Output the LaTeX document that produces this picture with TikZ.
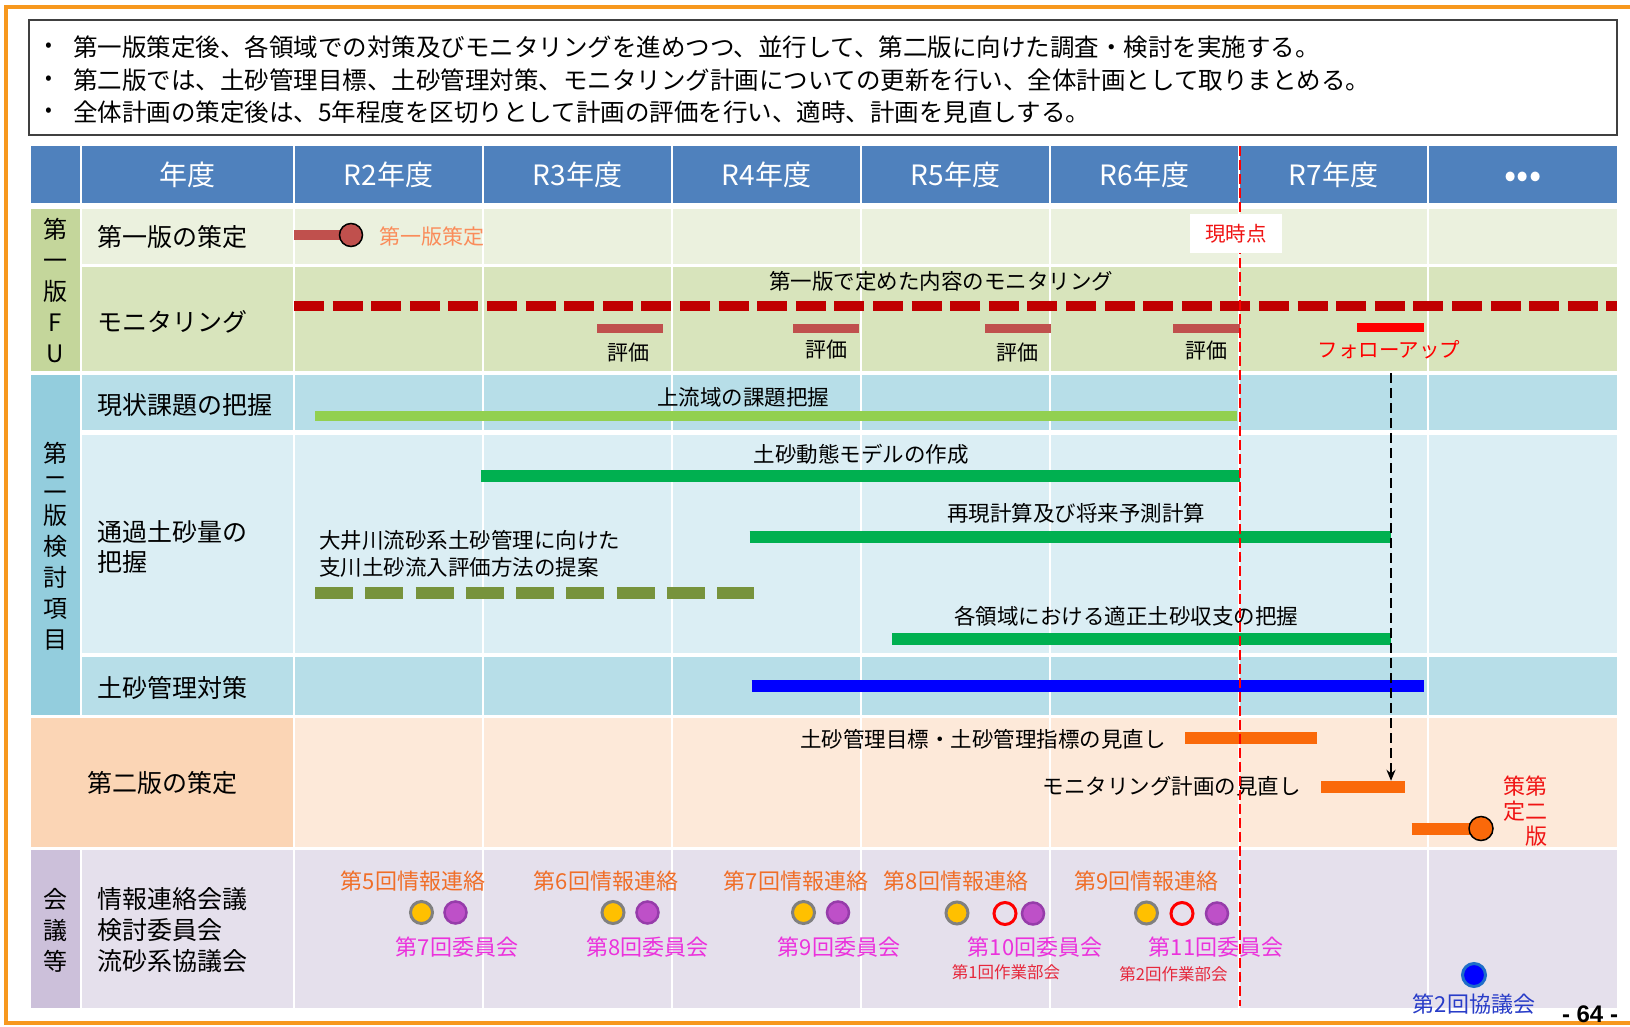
\documentclass[tikz,border=0pt]{standalone}
\usepackage{fontspec}
\setmainfont{Noto Sans CJK JP}
\newfontfamily\latinb{Liberation Sans}
\usetikzlibrary{arrows.meta}
\definecolor{frameor}{RGB}{247,152,30}
\definecolor{headblue}{RGB}{79,129,189}
\definecolor{gAdark}{RGB}{196,214,155}
\definecolor{gAlight}{RGB}{235,241,222}
\definecolor{gAmid}{RGB}{216,228,188}
\definecolor{gBdark}{RGB}{147,205,221}
\definecolor{gBmid}{RGB}{183,222,232}
\definecolor{gBlight}{RGB}{219,238,244}
\definecolor{peach}{RGB}{251,213,181}
\definecolor{peachlt}{RGB}{253,233,217}
\definecolor{lavdark}{RGB}{204,192,218}
\definecolor{lavlt}{RGB}{229,224,236}
\definecolor{brick}{RGB}{192,80,77}
\definecolor{monred}{RGB}{192,0,0}
\definecolor{ltgreen}{RGB}{146,208,80}
\definecolor{bargreen}{RGB}{0,176,80}
\definecolor{olivebar}{RGB}{119,147,60}
\definecolor{orng}{RGB}{250,105,10}
\definecolor{salmon}{RGB}{250,140,90}
\definecolor{mtgor}{RGB}{240,110,40}
\definecolor{mag}{RGB}{235,50,220}
\definecolor{ylw}{RGB}{255,192,0}
\definecolor{purp}{RGB}{190,80,200}
\definecolor{purpb}{RGB}{150,60,170}
\definecolor{wgred}{RGB}{230,40,60}
\definecolor{kyblue}{RGB}{40,60,200}
\definecolor{ringblue}{RGB}{30,110,200}
\definecolor{nowred}{RGB}{240,20,20}
\newcommand\fsz[1]{\fontsize{#1}{#1}\selectfont}
\begin{document}
\begin{tikzpicture}[x=1pt,y=-1pt,
  rowlbl/.style={anchor=west,inner sep=0,font=\fsz{25}},
  grp/.style={inner sep=0,align=center,font=\fontsize{24}{31}\selectfont},
  barlbl/.style={inner sep=0,font=\fsz{21.5}},
  hdr/.style={inner sep=0,text=white,font=\fsz{28}},
  bul/.style={anchor=west,inner sep=0,font=\fsz{24.5}},
  bulpt/.style={inner sep=0,font=\fsz{20}},
  gridw/.style={white,line width=2.5},
  ycirc/.style={circle,inner sep=0,minimum size=22,fill=ylw,draw=gray,line width=3},
  pcirc/.style={circle,inner sep=0,minimum size=22,fill=purp,draw=purpb,line width=2.5},
  rcirc/.style={circle,inner sep=0,minimum size=22,draw=red,line width=3},
  mtgA/.style={inner sep=0,text=mtgor,font=\fsz{22}},
  mtgB/.style={inner sep=0,text=mag,font=\fsz{22}},
  mtgC/.style={inner sep=0,text=wgred,font=\fsz{16.5}}]
\useasboundingbox (0,0) rectangle (1630,1026);
\fill[white] (0,0) rectangle (1630,1026);
% frame
\draw[frameor,line width=4.5] (1630,7) -- (6,7) -- (6,1023) -- (1630,1023);
% text box
\draw[black!75,line width=1.3,fill=white] (29,20) rectangle (1617,135);
\node[bulpt] (p1) at (49,47) {•};
\node[bulpt] (p2) at (49,80) {•};
\node[bulpt] (p3) at (49,112) {•};
\node[bul] (t1) at (73,47) {第一版策定後、各領域での対策及びモニタリングを進めつつ、並行して、第二版に向けた調査・検討を実施する。};
\node[bul] (t2) at (73,80) {第二版では、土砂管理目標、土砂管理対策、モニタリング計画についての更新を行い、全体計画として取りまとめる。};
\node[bul] (t3) at (73,112) {全体計画の策定後は、5年程度を区切りとして計画の評価を行い、適時、計画を見直しする。};
% header
\fill[headblue] (31,146) rectangle (1617,203);
\foreach \xx in {81,294,483,672,861,1050,1239,1428} \draw[white,line width=2] (\xx,146) -- (\xx,203);
\node[hdr] (h0) at (187.5,175) {年度};
\node[hdr] (h2) at (388.5,175) {R2年度};
\node[hdr] (h3) at (577.5,175) {R3年度};
\node[hdr] (h4) at (766.5,175) {R4年度};
\node[hdr] (h5) at (955.5,175) {R5年度};
\node[hdr] (h6) at (1144.5,175) {R6年度};
\node[hdr] (h7) at (1333.5,175) {R7年度};
\node[inner sep=0,text=white,font=\fsz{36}] (h8) at (1523,180) {•••};
% row backgrounds
\fill[gAdark] (31,209) rectangle (79.5,371);
\fill[gAlight] (81.5,209) rectangle (1617,264);
\fill[gAmid] (81.5,267) rectangle (1617,371);
\fill[gBdark] (31,375) rectangle (79.5,715);
\fill[gBmid] (81.5,375) rectangle (1617,430);
\fill[gBlight] (81.5,435) rectangle (1617,653);
\fill[gBmid] (81.5,657) rectangle (1617,715);
\fill[peach] (31,718) rectangle (293,847);
\fill[peachlt] (295,718) rectangle (1617,847);
\fill[lavdark] (31,850) rectangle (79.5,1008);
\fill[lavlt] (81.5,850) rectangle (1617,1008);
\foreach \xx in {294,483,672,861,1050,1239,1428} \draw[gridw] (\xx,209) -- (\xx,1008);
% group labels
\node[grp] (gA) at (55,291) {第\\一\\版\\F\\U};
\node[grp] (gB) at (55,546) {第\\二\\版\\検\\討\\項\\目};
\node[grp] (gC) at (55,930) {会\\議\\等};
% row labels
\node[rowlbl] (r1) at (97,237) {第一版の策定};
\node[rowlbl] (r2) at (97,322) {モニタリング};
\node[rowlbl] (r3) at (97,405) {現状課題の把握};
\node[rowlbl] (r4a) at (97,532) {通過土砂量の};
\node[rowlbl] (r4b) at (97,562) {把握};
\node[rowlbl] (r5) at (97,688) {土砂管理対策};
\node[inner sep=0,font=\fsz{25}] (r6) at (162,783) {第二版の策定};
\node[rowlbl] (r7a) at (97,899) {情報連絡会議};
\node[rowlbl] (r7b) at (97,930) {検討委員会};
\node[rowlbl] (r7c) at (97,961) {流砂系協議会};
% row 1
\draw[brick,line width=10] (294,235) -- (345,235);
\node[circle,inner sep=0,minimum size=23,fill=brick,draw=black,line width=1.5] (v1) at (351,235) {};
\node[anchor=west,inner sep=0,text=salmon,font=\fsz{21}] (v1t) at (379,237) {第一版策定};
% row 2
\node[barlbl] (mont) at (941,281) {第一版で定めた内容のモニタリング};
\draw[monred,line width=10,dash pattern=on 30pt off 8.6pt] (294,305.5) -- (1617,305.5);
\draw[brick,line width=9] (597,328.5) -- (663,328.5);
\draw[brick,line width=9] (793,328.5) -- (859,328.5);
\draw[brick,line width=9] (985,328.5) -- (1051,328.5);
\draw[brick,line width=9] (1173,328.5) -- (1240,328.5);
\draw[red,line width=9] (1357,327.5) -- (1424,327.5);
\node[barlbl,font=\fsz{21}] (e1) at (628,353) {評価};
\node[barlbl,font=\fsz{21}] (e2) at (826,350) {評価};
\node[barlbl,font=\fsz{21}] (e3) at (1017,353) {評価};
\node[barlbl,font=\fsz{21}] (e4) at (1206,351) {評価};
\node[inner sep=0,text=red,font=\fsz{20.5}] (fu) at (1389,350) {フォローアップ};
% row 3
\node[barlbl] (s3t) at (743,397) {上流域の課題把握};
\draw[ltgreen,line width=10] (315,416) -- (1237,416);
% row 4
\node[barlbl] (s4a) at (861,454) {土砂動態モデルの作成};
\draw[bargreen,line width=12] (481,476) -- (1240,476);
\node[barlbl] (s4b) at (1076,513.5) {再現計算及び将来予測計算};
\draw[bargreen,line width=12] (749.5,537) -- (1391,537);
\node[anchor=west,inner sep=0,font=\fsz{21.5}] (s4c) at (319,540.5) {大井川流砂系土砂管理に向けた};
\node[anchor=west,inner sep=0,font=\fsz{21.5}] (s4d) at (319,567.5) {支川土砂流入評価方法の提案};
\draw[olivebar,line width=12,dash pattern=on 38pt off 12.25pt] (315,592.5) -- (754,592.5);
\node[barlbl] (s4e) at (1126,616) {各領域における適正土砂収支の把握};
\draw[bargreen,line width=12] (892,639) -- (1391,639);
% row 5
\draw[blue,line width=12] (751.5,686) -- (1424,686);
% row 6
\node[anchor=east,inner sep=0,font=\fsz{21.5}] (s6a) at (1166,739) {土砂管理目標・土砂管理指標の見直し};
\draw[orng,line width=12] (1185,738) -- (1317,738);
\node[anchor=east,inner sep=0,font=\fsz{21.5}] (s6b) at (1301,786) {モニタリング計画の見直し};
\node[fill=orng,minimum width=84.5,minimum height=12,inner sep=0] (monbar) at (1363,787) {};
\draw[orng,line width=12] (1411.5,828.5) -- (1475,828.5);
\node[circle,inner sep=0,minimum size=24,fill=orng,draw=black,line width=1.5] (v2) at (1481,828.5) {};
\node[anchor=east,inner sep=0,align=right,text=nowred,font=\fontsize{22}{25}\selectfont] (v2t) at (1548,811) {策第\\定二\\版};
% row 7 meetings
\node[mtgA] (m5) at (413,881.5) {第5回情報連絡};
\node[ycirc] (y5) at (421.5,912.5) {};
\node[pcirc] (q7) at (455.5,912.5) {};
\node[mtgB] (c7) at (457,947) {第7回委員会};
\node[mtgA] (m6) at (606,881.5) {第6回情報連絡};
\node[ycirc] (y6) at (613,912.5) {};
\node[pcirc] (q8) at (647.5,912.5) {};
\node[mtgB] (c8) at (647.5,947) {第8回委員会};
\node[mtgA] (m7) at (796,881.5) {第7回情報連絡};
\node[ycirc] (y7) at (803.5,912.5) {};
\node[pcirc] (q9) at (838,912.5) {};
\node[mtgB] (c9) at (839,947) {第9回委員会};
\node[mtgA] (m8) at (956,881.5) {第8回情報連絡};
\node[ycirc] (y8) at (957,913) {};
\node[rcirc] (w1) at (1005,913.5) {};
\node[pcirc] (q10) at (1033,913.5) {};
\node[mtgB] (c10) at (1035,947) {第10回委員会};
\node[mtgC] (wt1) at (1006,972) {第1回作業部会};
\node[mtgA] (m9) at (1146.5,881.5) {第9回情報連絡};
\node[ycirc] (y9) at (1146.5,913) {};
\node[rcirc] (w2) at (1182,913.5) {};
\node[pcirc] (q11) at (1217,913.5) {};
\node[mtgB] (c11) at (1216,947) {第11回委員会};
\node[mtgC] (wt2) at (1173.5,974) {第2回作業部会};
\node[circle,inner sep=0,minimum size=23,fill=blue,draw=ringblue,line width=3] (k2) at (1474,975) {};
\node[inner sep=0,text=kyblue,font=\fsz{22}] (k2t) at (1474,1004) {第2回協議会};
\node[inner sep=0,font=\latinb\bfseries\fontsize{24}{24}\selectfont] (pg) at (1590,1014) {- 64 -};
% current time line
\draw[red,line width=2.2,dash pattern=on 10pt off 4pt] (1240,146) -- (1240,1006);
\fill[white] (1190,214) rectangle (1282,253);
\node[inner sep=0,text=nowred,font=\fsz{20.5}] (now) at (1236,233.5) {現時点};
% follow-up arrow
\coordinate (fuTop) at (1391,373);
\draw[black,line width=2.2,dash pattern=on 10pt off 5pt,-{Stealth[length=11pt,width=9pt]}] (fuTop) -- (fuTop |- monbar.north);
\end{tikzpicture}
\end{document}
